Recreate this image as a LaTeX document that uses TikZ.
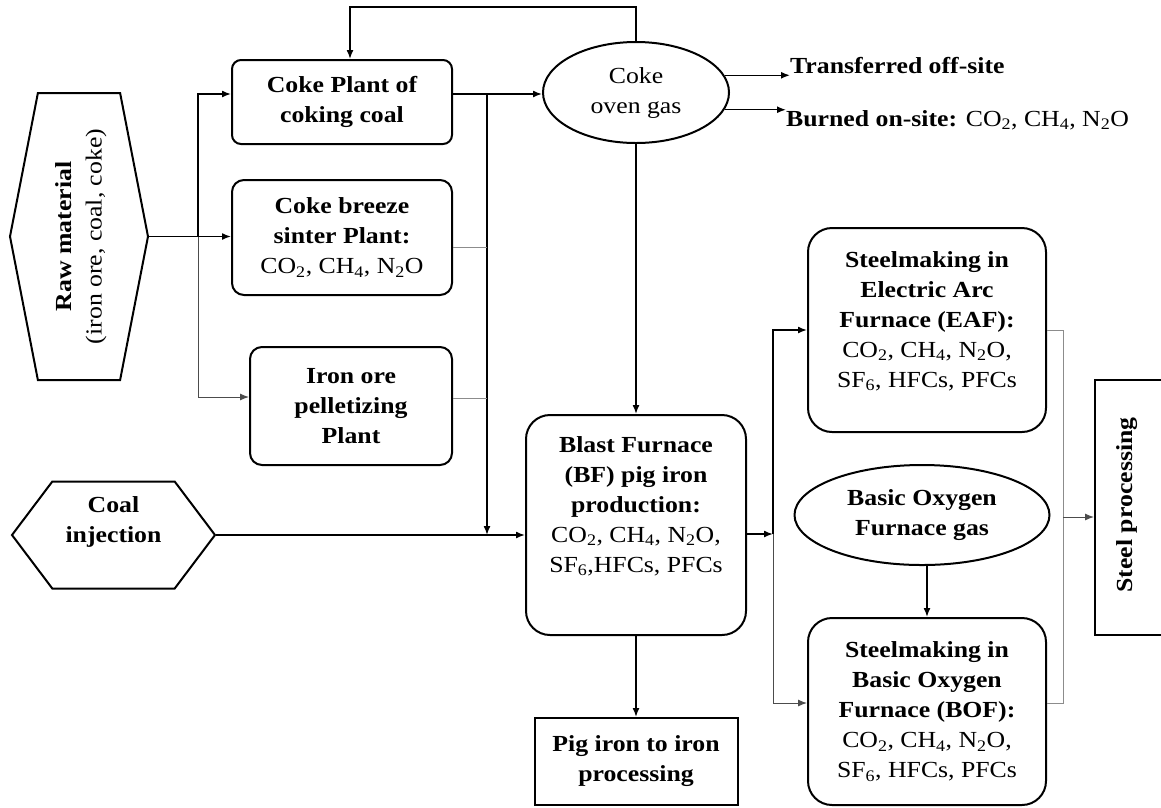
\documentclass[tikz,border=0pt]{standalone}
\usepackage{fontspec}
\setmainfont{Liberation Serif}[FakeStretch=1.12]
\usetikzlibrary{arrows.meta,shapes.symbols,shapes.geometric,calc}
\newcommand{\sbs}[1]{\textsubscript{#1}}
\tikzset{
  txt/.style={font=\fontsize{23}{30}\selectfont, align=center, inner sep=0pt},
  btxt/.style={font=\fontsize{23}{30}\selectfont\bfseries, align=center, inner sep=0pt},
  box/.style={draw, line width=2pt, inner sep=0pt},
  rbox/.style={box, rounded corners=#1},
  hexa/.style={draw, line width=2pt, shape=signal, signal to=west and east, inner sep=0pt},
  oval/.style={draw, line width=2pt, ellipse, inner sep=0pt},
  arr/.style={line width=1.5pt, -{Latex[length=9pt,width=7pt]}},
  garr/.style={line width=1pt, black!70, -{Latex[length=9pt,width=7pt]}},
  gln/.style={line width=1pt, black!45}
}
\begin{document}
\begin{tikzpicture}[x=1pt,y=-1pt]
\useasboundingbox (0,0) rectangle (1161,807);
% nodes
\node[hexa, signal pointer angle=158, minimum width=138pt, minimum height=287pt] (rm) at (79,236.5) {};
\node[txt, rotate=90] (rmt) at (81,236.5) {\textbf{Raw material}\\(iron ore, coal, coke)};
\node[hexa, signal pointer angle=106, minimum width=203pt, minimum height=107pt] (coal) at (113.5,535) {};
\node[btxt] (coalt) at (113.5,522) {Coal\\injection};
\node[rbox=9pt, btxt, minimum width=220pt, minimum height=84pt] (cp) at (342,102) {Coke Plant of\\coking coal};
\node[rbox=12pt, txt, minimum width=220pt, minimum height=115pt] (cb) at (342,237.5) {\textbf{Coke breeze}\\\textbf{sinter Plant:}\\CO\sbs{2}, CH\sbs{4}, N\sbs{2}O};
\node[rbox=12pt, btxt, minimum width=202pt, minimum height=118pt] (io) at (351,406) {Iron ore\\pelletizing\\Plant};
\node[oval, txt, minimum width=186pt, minimum height=101pt] (cog) at (636,92.5) {Coke\\oven gas};
\node[btxt, anchor=west] (tr) at (790,66) {Transferred off-site};
\node[txt, anchor=west] (bo) at (786,120) {\textbf{Burned on-site:} CO\sbs{2}, CH\sbs{4}, N\sbs{2}O};
\node[rbox=24pt, minimum width=220pt, minimum height=220pt] (bf) at (636,525) {};
\node[txt] (bft) at (636,506) {\textbf{Blast Furnace}\\\textbf{(BF) pig iron}\\\textbf{production:}\\CO\sbs{2}, CH\sbs{4}, N\sbs{2}O,\\SF\sbs{6},HFCs, PFCs};
\node[box, btxt, minimum width=203pt, minimum height=87pt] (pig) at (636,761.5) {Pig iron to iron\\processing};
\node[rbox=24pt, minimum width=238pt, minimum height=204pt] (eaf) at (927,330) {};
\node[txt] (eaft) at (927,321) {\textbf{Steelmaking in}\\\textbf{Electric Arc}\\\textbf{Furnace (EAF):}\\CO\sbs{2}, CH\sbs{4}, N\sbs{2}O,\\SF\sbs{6}, HFCs, PFCs};
\node[oval, btxt, minimum width=255pt, minimum height=100pt] (bofg) at (922,515) {Basic Oxygen\\Furnace gas};
\node[rbox=24pt, txt, minimum width=238pt, minimum height=187pt] (bof) at (927,711.5) {\textbf{Steelmaking in}\\\textbf{Basic Oxygen}\\\textbf{Furnace (BOF):}\\CO\sbs{2}, CH\sbs{4}, N\sbs{2}O,\\SF\sbs{6}, HFCs, PFCs};
\node[box, minimum width=80pt, minimum height=255pt] (sp) at (1135,507.5) {};
\node[btxt, rotate=90] (spt) at (1127,505) {Steel processing};
% junction coordinates
\coordinate (j1) at (198,236.5);
\coordinate (j2) at (487,94);
\coordinate (fb) at (350,7);
\coordinate (j3) at (773,534);
\coordinate (j4) at (1063,517);
% connectors
\draw[arr] (cog.north) |- (fb) -- (fb |- cp.north);
\draw[arr] (rm.east) -- (rm.east -| cb.west);
\draw[arr] (j1) |- ([yshift=8pt]cp.west);
\draw[garr] (j1) |- ([yshift=9pt]io.west);
\draw[arr] ([yshift=8pt]cp.east) -- ([yshift=8pt]cp.east -| cog.west);
\draw[arr] (j2) -- (j2 |- coal.east);
\draw[gln] ([yshift=-9.5pt]cb.east) -- ([yshift=-9.5pt]cb.east -| j2);
\draw[gln] ([yshift=8pt]io.east) -- ([yshift=8pt]io.east -| j2);
\draw[arr] (coal.east) -- (coal.east -| bf.west);
\draw[arr] (cog.south) -- (bf.north);
\draw[arr] (cog.11) -- (cog.11 -| tr.west);
\draw[arr] (cog.-11) -- (cog.-11 -| bo.west);
\draw[arr] (bf.south) -- (pig.north);
\draw[arr] ([yshift=-9pt]bf.east) -- (j3);
\draw[arr] (j3) |- (eaf.west);
\draw[garr] (j3) |- ([yshift=8.5pt]bof.west);
\draw[arr] (bofg.south -| bof.north) -- (bof.north);
\draw[gln] (eaf.east) -| (j4);
\draw[gln] ([yshift=8.5pt]bof.east) -| (j4);
\draw[garr] (j4) -- (j4 -| sp.west);
\end{tikzpicture}
\end{document}
